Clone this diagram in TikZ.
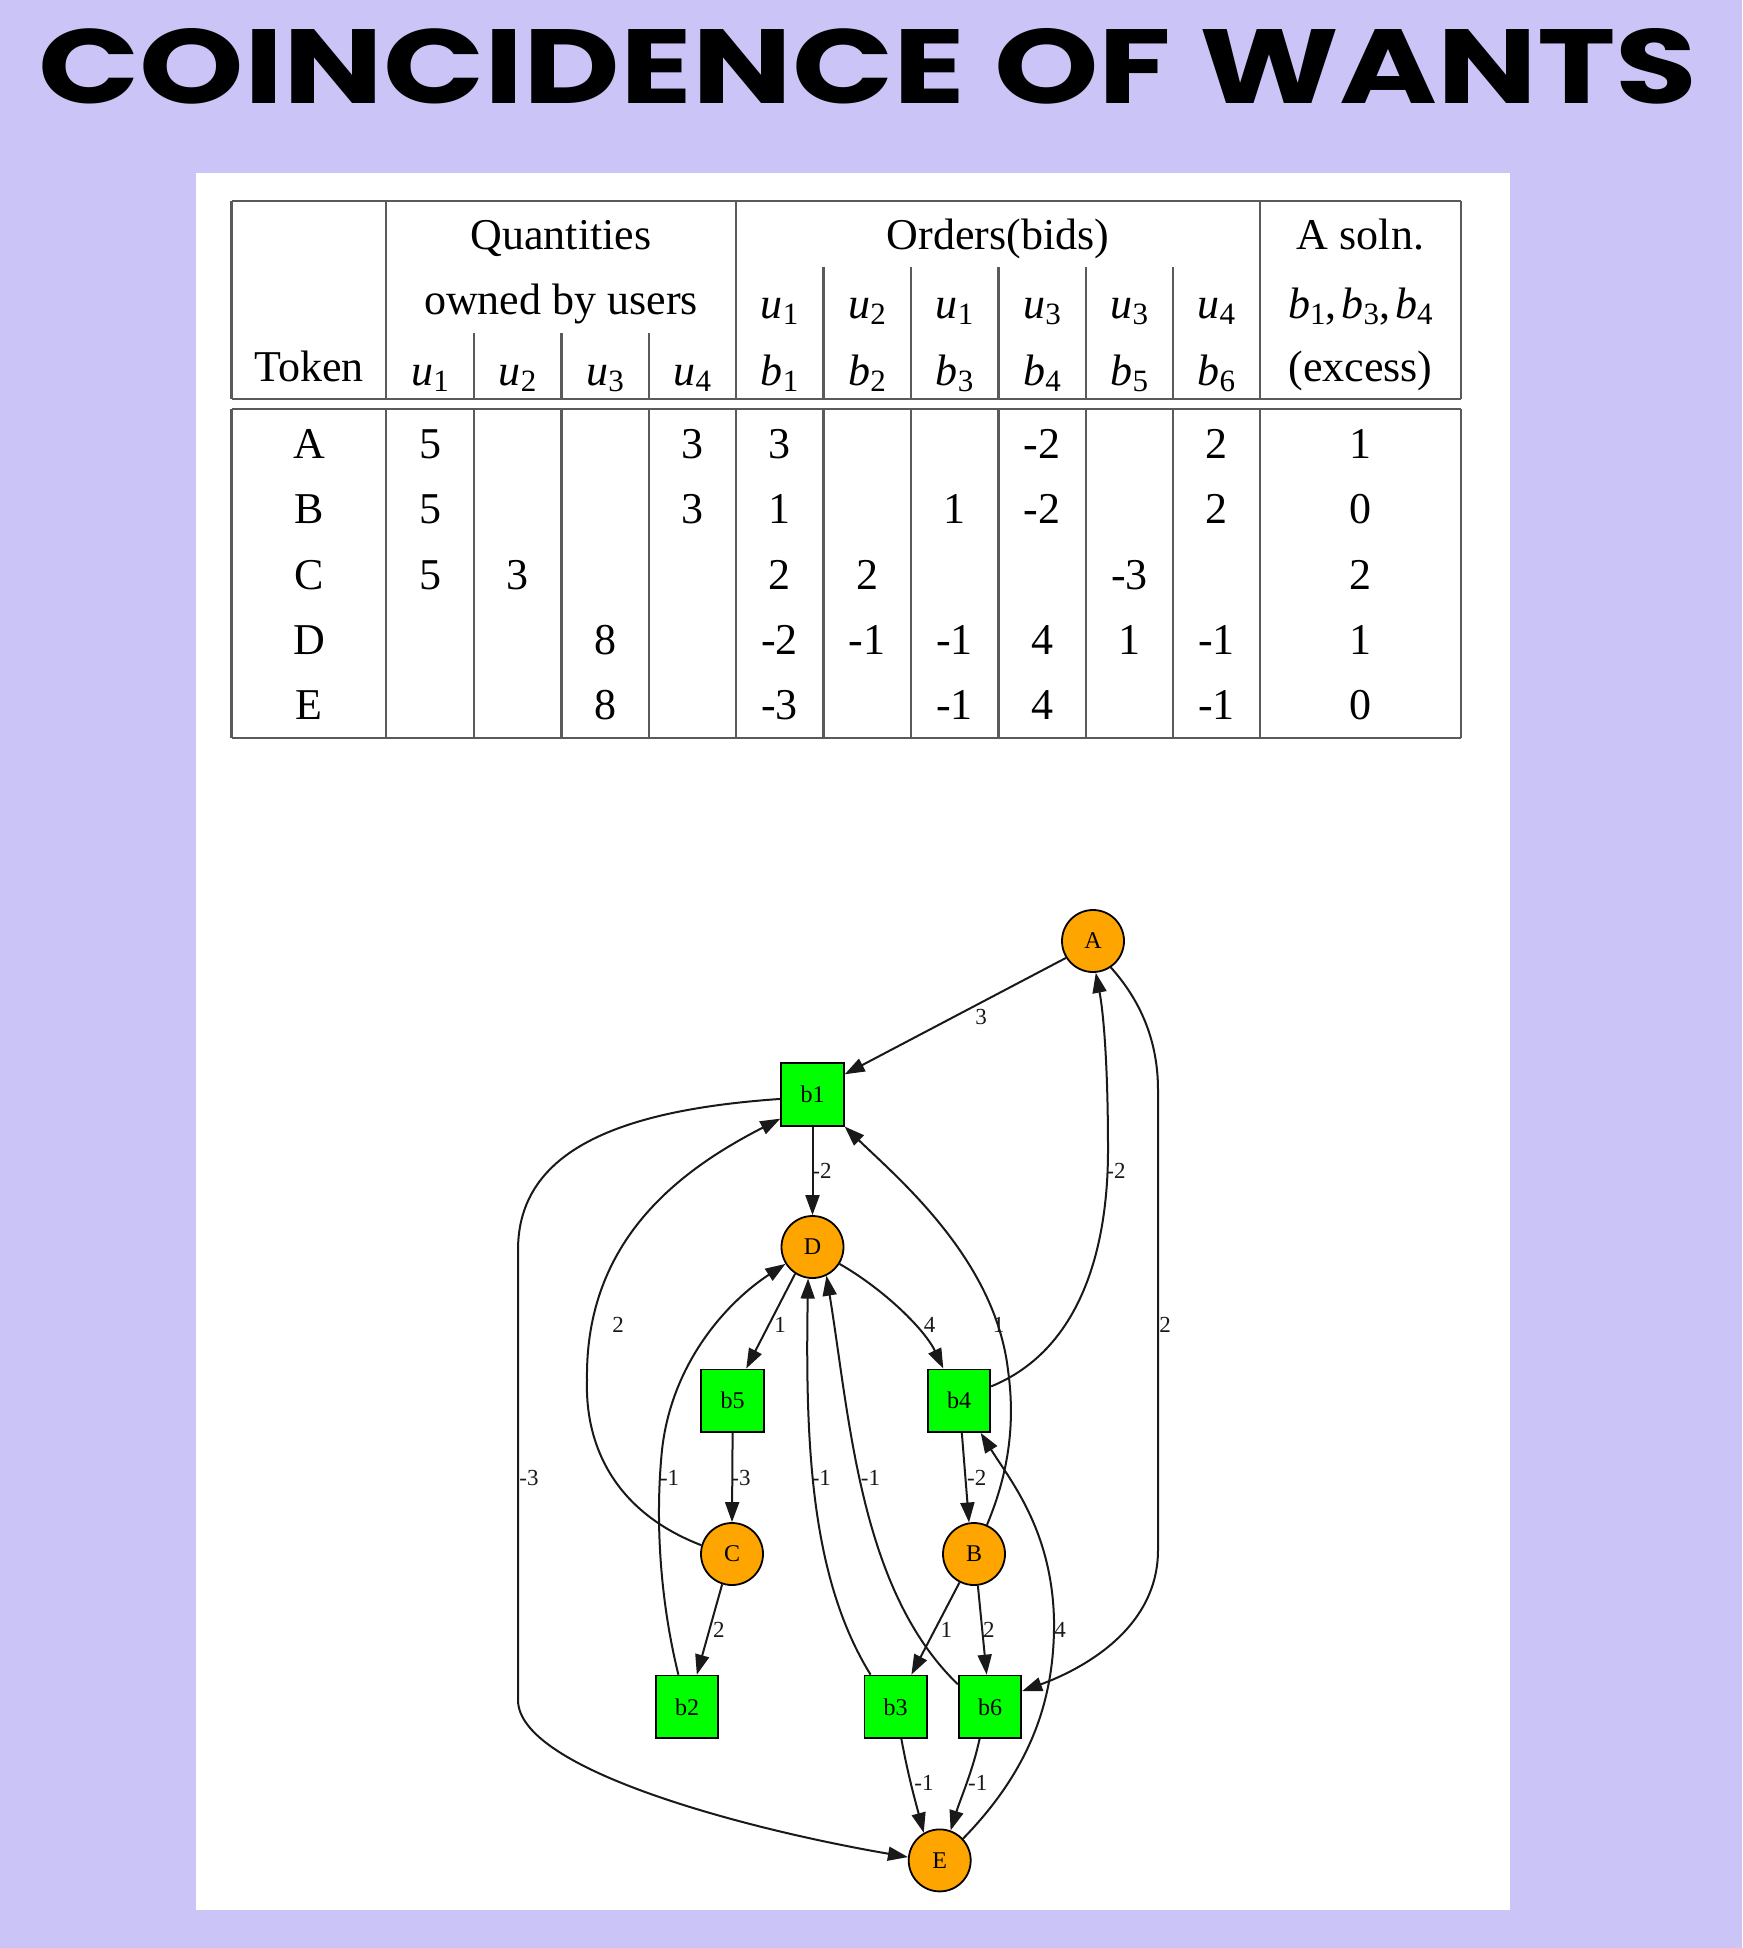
\documentclass[tikz,border=0pt]{standalone}
\usepackage{fontspec}
\setmainfont{Liberation Serif}
\newfontfamily\titlefont{Poppins}
\usetikzlibrary{arrows.meta}
\definecolor{bgl}{RGB}{203,196,246}
\definecolor{gvorange}{RGB}{255,165,0}
\definecolor{gvgreen}{RGB}{0,255,0}
\definecolor{tline}{RGB}{90,90,90}
\definecolor{eline}{RGB}{25,25,25}
\newcommand\uu[2]{\textit{#1}\raisebox{-6pt}{\fontsize{31}{31}\selectfont #2}}
\begin{document}
\begin{tikzpicture}[x=1pt,y=-1pt,
  tok/.style={circle, draw=black, line width=1.8pt, fill=gvorange, minimum size=62pt, inner sep=0pt, font=\fontsize{24}{24}\selectfont},
  bid/.style={rectangle, draw=black, line width=1.8pt, fill=gvgreen, minimum size=62.5pt, inner sep=0pt, font=\fontsize{24}{24}\selectfont},
  edge/.style={draw=eline, line width=2pt, -{Triangle[length=20pt,width=14pt]}},
  elbl/.style={font=\fontsize{23}{23}\selectfont, inner sep=0pt, text=eline},
  tl/.style={draw=tline, line width=2.4pt},
  cell/.style={anchor=base, inner sep=0pt, font=\fontsize{44}{52}\selectfont},
]
% background and panel
\fill[bgl] (0,0) rectangle (1742,1948);
\useasboundingbox (0,0) rectangle (1742,1948);
\fill[white] (196,173) rectangle (1510,1910);
% title
\node[inner sep=0pt] (title) at (868,66) {\resizebox{1659pt}{75pt}{\titlefont\bfseries COINCIDENCE OF WANTS}};

% table rules
\draw[tl] (231.5,201) -- (1461.2,201);
\draw[tl] (231.5,399) -- (1461.2,399);
\draw[tl] (231.5,409) -- (1461.2,409);
\draw[tl] (231.5,738) -- (1461.2,738);
\foreach \x in {231.5,386.2,735.8,1259.7,1461.2} \draw[tl] (\x,201) -- (\x,399);
\foreach \x in {474,561.3,648.7} \draw[tl] (\x,333) -- (\x,399);
\foreach \x in {823.3,910.8,998.5,1085.7,1173} \draw[tl] (\x,267) -- (\x,399);
\foreach \x in {231.5,386.2,474,561.3,648.7,735.8,823.3,910.8,998.5,1085.7,1173,1259.7,1461.2} \draw[tl] (\x,409) -- (\x,738);

% header text
\node[cell] (hq) at (561,249.5) {Quantities};
\node[cell] (ho) at (998,249.5) {Orders(bids)};
\node[cell] (hs) at (1360.45,249.5) {A soln.};
\node[cell] (hw) at (561,314) {owned by users};
\node[cell] (hb) at (1360.45,318) {\uu{b}{1},\kern5pt\uu{b}{3},\kern5pt\uu{b}{4}};
\node[cell] (ht) at (309,381) {Token};
\node[cell] (he) at (1360.45,381) {(excess)};
\foreach \x/\a/\b [count=\i] in {779.55/u/1,867.05/u/2,954.65/u/1,1042.1/u/3,1129.35/u/3,1216.35/u/4}
  \node[cell] (hu\i) at (\x,318) {\uu{\a}{\b}};
\foreach \x/\a/\b [count=\i] in {430.1/u/1,517.65/u/2,605/u/3,692.25/u/4,779.55/b/1,867.05/b/2,954.65/b/3,1042.1/b/4,1129.35/b/5,1216.35/b/6}
  \node[cell] (hv\i) at (\x,385) {\uu{\a}{\b}};

% data
\foreach \x/\v [count=\i] in {309/A,430.1/5,692.25/3,779.55/3,1042.1/-2,1216.35/2,1360.45/1}
  \node[cell] (rA\i) at (\x,458.5) {\v};
\foreach \x/\v [count=\i] in {309/B,430.1/5,692.25/3,779.55/1,954.65/1,1042.1/-2,1216.35/2,1360.45/0}
  \node[cell] (rB\i) at (\x,523.7) {\v};
\foreach \x/\v [count=\i] in {309/C,430.1/5,517.65/3,779.55/2,867.05/2,1129.35/-3,1360.45/2}
  \node[cell] (rC\i) at (\x,589) {\v};
\foreach \x/\v [count=\i] in {309/D,605/8,779.55/-2,867.05/-1,954.65/-1,1042.1/4,1129.35/1,1216.35/-1,1360.45/1}
  \node[cell] (rD\i) at (\x,654.2) {\v};
\foreach \x/\v [count=\i] in {309/E,605/8,779.55/-3,954.65/-1,1042.1/4,1216.35/-1,1360.45/0}
  \node[cell] (rE\i) at (\x,719.4) {\v};

% graph nodes
\node[tok] (A) at (1093,941) {A};
\node[bid] (b1) at (812.5,1094.4) {b1};
\node[tok] (D) at (812.5,1247) {D};
\node[bid] (b5) at (732.6,1400.7) {b5};
\node[bid] (b4) at (959,1400.7) {b4};
\node[tok] (C) at (732,1554) {C};
\node[tok] (B) at (974,1554) {B};
\node[bid] (b2) at (687,1706.8) {b2};
\node[bid] (b3) at (895.7,1706.8) {b3};
\node[bid] (b6) at (990,1706.8) {b6};
\node[tok] (E) at (939.7,1860.4) {E};

% edges
\draw[edge] (A.212) -- (b1.32) node[elbl] at (981,1017) {3};
\draw[edge] (b1.south) -- (D.north) node[elbl] at (822,1171) {-2};
\draw[edge] (b1.188) .. controls (620,1110) and (518,1150) .. (518,1250) -- (518,1700) .. controls (518,1770) and (750,1830) .. (E.174) node[elbl] at (529,1477.5) {-3};
\draw[edge] (C.164) .. controls (610,1510) and (585,1440) .. (587,1380) .. controls (585,1240) and (680,1170) .. (b1.217) node[elbl] at (618,1324.6) {2};
\draw[edge] (D.237) -- (b5.67) node[elbl] at (780,1324.6) {1};
\draw[edge] (D.328) .. controls (885,1290) and (925,1330) .. (b4.116) node[elbl] at (929.5,1324.6) {4};
\draw[edge] (B.66) .. controls (1010,1470) and (1015,1420) .. (1008,1370) .. controls (995,1260) and (900,1180) .. (b1.south east) node[elbl] at (998.6,1324.6) {1};
\draw[edge] (b4.24) .. controls (1080,1350) and (1108,1250) .. (1108,1150) .. controls (1108,1060) and (1103,1010) .. (A.275) node[elbl] at (1116,1171) {-2};
\draw[edge] (A.304) .. controls (1140,1000) and (1158,1040) .. (1158,1090) -- (1158,1550) .. controls (1158,1630) and (1080,1670) .. (b6.26) node[elbl] at (1165,1324.6) {2};
\draw[edge] (b5.south) -- (C.north) node[elbl] at (741,1477.5) {-3};
\draw[edge] (b2.105) .. controls (660,1600) and (655,1520) .. (662,1450) .. controls (672,1360) and (730,1300) .. (D.212) node[elbl] at (669.6,1477.5) {-1};
\draw[edge] (b3.128) .. controls (812,1580) and (805,1450) .. (D.262) node[elbl] at (821.4,1477.5) {-1};
\draw[edge] (b6.145) .. controls (860,1590) and (850,1420) .. (D.296) node[elbl] at (870.5,1477.5) {-1};
\draw[edge] (b4.275) -- (B.99) node[elbl] at (976.8,1477.5) {-2};
\draw[edge] (C.252) -- (b2.73) node[elbl] at (718.75,1629.7) {2};
\draw[edge] (B.243) -- (b3.64) node[elbl] at (946.4,1629.7) {1};
\draw[edge] (B.277) -- (b6.96) node[elbl] at (988.8,1629.7) {2};
\draw[edge] (b3.280) .. controls (908,1775) and (915,1800) .. (E.120) node[elbl] at (924,1783) {-1};
\draw[edge] (b6.252) .. controls (973,1770) and (960,1800) .. (E.70) node[elbl] at (977.7,1783) {-1};
\draw[edge] (E.43) .. controls (1030,1770) and (1055,1700) .. (1054,1620) .. controls (1052,1530) and (1010,1480) .. (b4.304) node[elbl] at (1060,1629.7) {4};
\end{tikzpicture}
\end{document}
